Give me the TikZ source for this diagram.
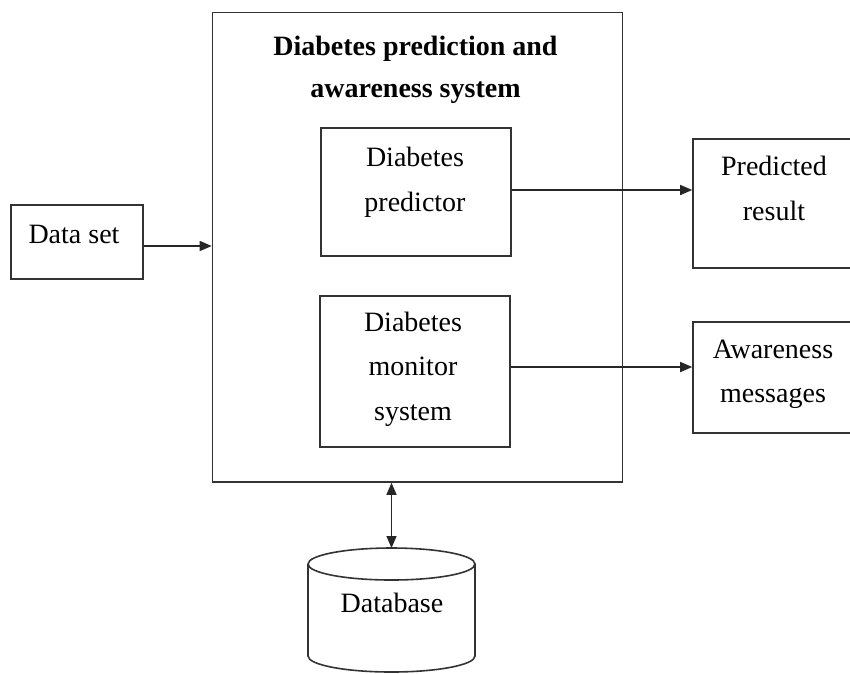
\documentclass[tikz,border=0pt]{standalone}
\usepackage{fontspec}
\setmainfont{Liberation Serif}
\usetikzlibrary{arrows.meta}
\begin{document}
\begin{tikzpicture}[x=1pt,y=-1pt,
  box/.style={draw=black!80, line width=1.6pt, rectangle, inner sep=0pt},
  txt/.style={font=\fontsize{28}{28}\selectfont, inner sep=0pt, anchor=base},
  btxt/.style={font=\fontsize{28}{28}\selectfont\bfseries, inner sep=0pt, anchor=base},
  conn/.style={draw=black!85, line width=1.4pt, -{Triangle[length=12pt,width=10pt]}},
  dconn/.style={draw=black!85, line width=1.4pt, {Triangle[length=12pt,width=10pt]}-{Triangle[length=12pt,width=10pt]}},
]
\useasboundingbox (0,0) rectangle (850,673);
\fill[white] (0,0) rectangle (850,673);

% boxes
\node[box, minimum width=410pt, minimum height=469.5pt] (main) at (417.5,247.25) {};
\node[box, minimum width=132pt, minimum height=74pt] (data) at (77,242) {};
\node[box, minimum width=190pt, minimum height=128pt] (pred) at (416,192) {};
\node[box, minimum width=190pt, minimum height=151pt] (mon) at (415,371.5) {};
\node[box, minimum width=170pt, minimum height=129pt] (res) at (778,203.5) {};
\node[box, minimum width=170pt, minimum height=111pt] (awa) at (778,377.5) {};

% texts
\node[btxt] (t1) at (415.5,55) {Diabetes prediction and};
\node[btxt] (t2) at (415.5,97) {awareness system};
\node[txt] (dataT) at (74,243) {Data set};
\node[txt] (predT1) at (415,166.7) {Diabetes};
\node[txt] (predT2) at (415,211.7) {predictor};
\node[txt] (monT1) at (413,331.7) {Diabetes};
\node[txt] (monT2) at (413,375) {monitor};
\node[txt] (monT3) at (413,420) {system};
\node[txt] (resT1) at (774,175) {Predicted};
\node[txt] (resT2) at (774,220) {result};
\node[txt] (awaT1) at (773,358) {Awareness};
\node[txt] (awaT2) at (773,402) {messages};

% database cylinder
\coordinate (dbtop) at (391.5,548);
\draw[line width=1.6pt, draw=black!80, fill=white]
  (308,564) -- (308,656) arc[start angle=180, end angle=360, x radius=83.5pt, y radius=16pt]
  -- (475,564);
\draw[line width=1.6pt, draw=black!80] (391.5,564) ellipse [x radius=83.5pt, y radius=16pt];
\node[txt] (dbT) at (392,612) {Database};

% connectors
\draw[conn] (data.east |- 0,246) -- (main.west |- 0,246);
\draw[conn] (pred.east |- 0,190) -- (res.west |- 0,190);
\draw[conn] (mon.east |- 0,367) -- (awa.west |- 0,367);
\draw[dconn] (main.south -| dbtop) -- (dbtop);
\end{tikzpicture}
\end{document}
